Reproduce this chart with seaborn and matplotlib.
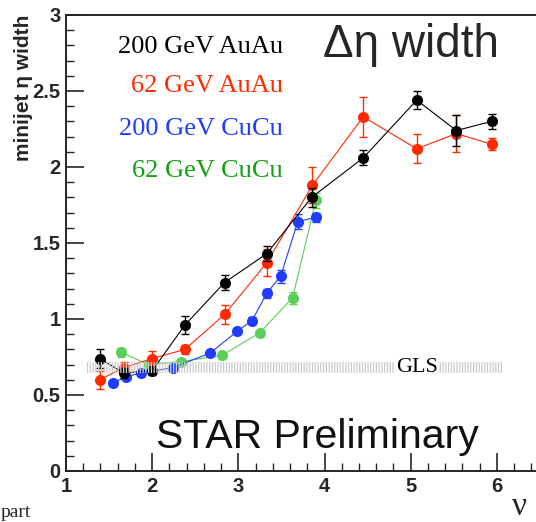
import numpy as np
import pandas as pd
import matplotlib
matplotlib.use("Agg")
import matplotlib.pyplot as plt
from matplotlib import ticker
import seaborn as sns

# ---- data ----
au200_x = [1.39, 1.67, 2.00, 2.38, 2.84, 3.33, 3.85, 4.45, 5.07, 5.53, 5.94]
au200_y = [0.74, 0.645, 0.66, 0.96, 1.24, 1.43, 1.80, 2.06, 2.44, 2.24, 2.30]
au200_e = [0.06, 0.03, 0.03, 0.06, 0.05, 0.05, 0.06, 0.05, 0.06, 0.10, 0.05]

au62_x = [1.39, 1.67, 2.00, 2.38, 2.84, 3.33, 3.86, 4.45, 5.07, 5.53, 5.94]
au62_y = [0.60, 0.68, 0.74, 0.80, 1.03, 1.37, 1.88, 2.33, 2.12, 2.22, 2.15]
au62_e = [0.06, 0.04, 0.05, 0.03, 0.06, 0.09, 0.12, 0.13, 0.095, 0.12, 0.04]

cu200_x = [1.54, 1.70, 1.87, 2.24, 2.67, 2.99, 3.16, 3.33, 3.49, 3.69, 3.90]
cu200_y = [0.58, 0.62, 0.645, 0.68, 0.775, 0.92, 0.99, 1.17, 1.28, 1.64, 1.67]
cu200_e = [0.02, 0.02, 0.02, 0.02, 0.02, 0.02, 0.02, 0.03, 0.04, 0.05, 0.03]

cu62_x = [1.64, 1.96, 2.33, 2.81, 3.25, 3.63, 3.90]
cu62_y = [0.78, 0.70, 0.72, 0.76, 0.91, 1.14, 1.78]
cu62_e = [0.03, 0.02, 0.02, 0.02, 0.02, 0.04, 0.05]

series_names = ["62 GeV CuCu", "200 GeV CuCu", "62 GeV AuAu", "200 GeV AuAu"]
line_colors = ["#5ad05a", "#1f3dff", "#ff2a00", "#000000"]
text_colors = ["#12a012", "#1f3dff", "#ff2a00", "#000000"]

gls_lo, gls_hi = 0.645, 0.717
gls_x = [1.24, 6.06]

xticks = [1, 2, 3, 4, 5, 6]
yticks = [0, 0.5, 1, 1.5, 2, 2.5, 3]

# ---- figure ----
sns.set_style("ticks")
plt.rcParams["hatch.linewidth"] = 0.9

fig = plt.figure(figsize=(5.36, 5.22), dpi=100)
ax = fig.add_axes([66 / 536, 51 / 522, (583 - 66) / 536, 456 / 522])

xs = [cu62_x, cu200_x, au62_x, au200_x]
ys = [cu62_y, cu200_y, au62_y, au200_y]
es = [cu62_e, cu200_e, au62_e, au200_e]

frames = []
for name, x, y, e in zip(series_names, xs, ys, es):
    frames.append(pd.DataFrame({"npart": x, "width": y, "err": e, "series": name}))
df = pd.concat(frames, ignore_index=True)

for i, (name, col) in enumerate(zip(series_names, line_colors)):
    sub = df[df["series"] == name]
    ax.errorbar(sub["npart"], sub["width"], yerr=sub["err"], fmt="none",
                ecolor=col, elinewidth=1.0, capsize=3, capthick=1.0, zorder=2 + i)
    sns.lineplot(data=sub, x="npart", y="width", color=col, marker="o",
                 markersize=8, markeredgewidth=0, linewidth=0.8, sort=False,
                 ax=ax, legend=False, zorder=3 + i)

# GLS band
ax.fill_between(gls_x, gls_lo, gls_hi, facecolor="none", edgecolor="#cccccc",
                hatch="||||||", linewidth=0, zorder=10)
ax.text(5.07, 0.683, "GLS", family="Liberation Serif", fontsize=16,
        ha="center", va="center", color="black", zorder=11,
        bbox=dict(facecolor="white", edgecolor="none", pad=0.3))

# axes styling
ax.set_xlim(1, 7)
ax.set_ylim(0, 3)
ax.set_xticks(xticks)
ax.set_yticks(yticks)
ax.xaxis.set_minor_locator(ticker.MultipleLocator(0.2))
ax.yaxis.set_minor_locator(ticker.MultipleLocator(0.1))
ax.yaxis.set_major_formatter(ticker.FuncFormatter(lambda v, p: f"{v:g}"))
ax.xaxis.set_major_formatter(ticker.FuncFormatter(lambda v, p: f"{v:g}"))
ax.tick_params(which="major", direction="in", length=13, width=1.2,
               labelsize=14.5, pad=4, top=False, right=False)
ax.tick_params(which="minor", direction="in", length=6, width=1.0,
               top=False, right=False)
for lab in ax.get_xticklabels() + ax.get_yticklabels():
    lab.set_fontweight("bold")
    lab.set_family("Liberation Sans")
for s in ["left", "bottom", "top"]:
    ax.spines[s].set_linewidth(1.4)
    ax.spines[s].set_visible(True)
ax.spines["right"].set_visible(False)
ax.set_xlabel("")
ax.set_ylabel("")

fig.text(24 / 536, 1 - 88 / 522, "minijet \u03b7 width", rotation=90,
         ha="center", va="center", fontsize=15, fontweight="bold",
         family="Liberation Sans")

# legend-like texts
legend_y = [171, 129, 86, 47]
for name, col, yy in zip(series_names, text_colors, legend_y):
    fig.text(283 / 536, 1 - yy / 522, name, color=col, ha="right", va="center",
             fontsize=19, family="Liberation Serif")

fig.text(411 / 536, 1 - 45 / 522, "\u0394\u03b7 width", ha="center", va="center",
         fontsize=33, family="Liberation Sans")
fig.text(317 / 536, 1 - 437 / 522, "STAR Preliminary", ha="center", va="center",
         fontsize=29.5, family="Liberation Sans", color="#111111")

fig.text(527 / 536, 1 - 515 / 522, "\u03bd", ha="right", va="baseline",
         fontsize=24, family="Liberation Serif")
fig.text(1 / 536, 1 / 522, "part", ha="left", va="bottom",
         fontsize=14, family="Liberation Serif")

fig.savefig("out.png", dpi=100)
